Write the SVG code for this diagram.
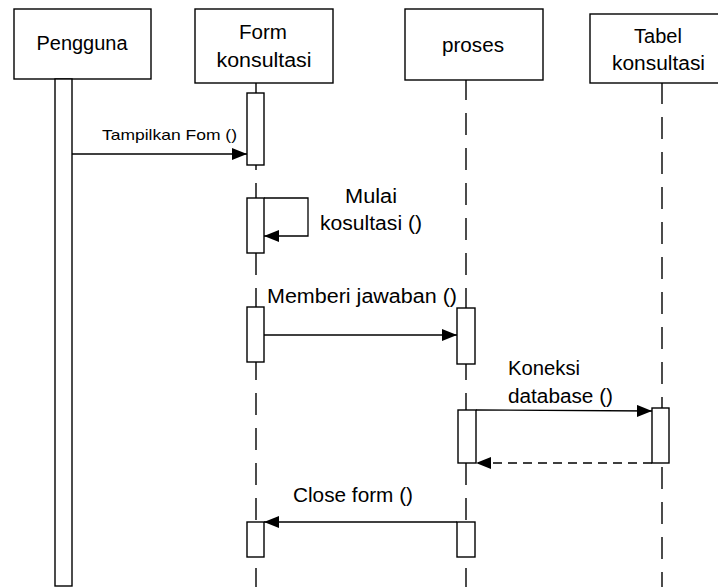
<svg xmlns="http://www.w3.org/2000/svg" width="718" height="587" viewBox="0 0 718 587">
<style>
.box{fill:#fff;stroke:#000;stroke-width:1.4}
.act{fill:#fff;stroke:#000;stroke-width:1.4}
.life{stroke:#000;stroke-width:1.4;stroke-dasharray:22 13;fill:none}
.msg{stroke:#000;stroke-width:1.3;fill:none}
.ret{stroke:#000;stroke-width:1.3;fill:none;stroke-dasharray:9 6}
text{font-family:"Liberation Sans",Arial,sans-serif;fill:#000}
.t{font-size:20px;text-anchor:middle}
.l{font-size:20px}
.s{font-size:15px}
</style>
<defs>
<marker id="ah" markerWidth="16" markerHeight="12" refX="15" refY="6" orient="auto" markerUnits="userSpaceOnUse">
<path d="M0,0 L15,6 L0,12 Z" fill="#000"/>
</marker>
</defs>
<g id="lifelines">
<line class="life" x1="256" y1="78" x2="256" y2="587"/>
<line class="life" x1="466" y1="78" x2="466" y2="587"/>
<line class="life" x1="662" y1="82" x2="662" y2="587"/>
</g>
<g id="pengguna">
<rect class="box" x="14" y="9" width="137" height="70"/>
<text class="t" x="82" y="50" textLength="91" lengthAdjust="spacingAndGlyphs">Pengguna</text>
<rect class="act" x="55" y="79" width="17" height="507"/>
</g>
<g id="form-konsultasi">
<rect class="box" x="195" y="9" width="138" height="74"/>
<text class="t" x="263" y="39" textLength="48" lengthAdjust="spacingAndGlyphs">Form</text>
<text class="t" x="264" y="67" textLength="95" lengthAdjust="spacingAndGlyphs">konsultasi</text>
<rect class="act" x="247" y="93" width="17" height="72"/>
<rect class="act" x="247" y="198" width="17" height="55"/>
<rect class="act" x="247" y="307" width="17" height="55"/>
<rect class="act" x="247" y="522" width="17" height="35"/>
</g>
<g id="proses">
<rect class="box" x="405" y="9" width="138" height="71"/>
<text class="t" x="473" y="52" textLength="62" lengthAdjust="spacingAndGlyphs">proses</text>
<rect class="act" x="457" y="308" width="18" height="56"/>
<rect class="act" x="458" y="410" width="18" height="53"/>
<rect class="act" x="457" y="522" width="18" height="35"/>
</g>
<g id="tabel-konsultasi">
<rect class="box" x="590" y="14" width="145" height="69"/>
<text class="t" x="658" y="43">Tabel</text>
<text class="t" x="658.5" y="70" textLength="93" lengthAdjust="spacingAndGlyphs">konsultasi</text>
<rect class="act" x="652" y="408" width="17" height="55"/>
</g>
<g id="connectors">
<line class="msg" x1="72" y1="154" x2="247" y2="154" marker-end="url(#ah)"/>
<polyline class="msg" points="264,198 308,198 308,236 264,236" marker-end="url(#ah)"/>
<line class="msg" x1="264" y1="335" x2="457" y2="335" marker-end="url(#ah)"/>
<line class="msg" x1="476" y1="410" x2="652" y2="411" marker-end="url(#ah)"/>
<line class="ret" x1="652" y1="463" x2="476" y2="463" marker-end="url(#ah)"/>
<line class="msg" x1="457" y1="522" x2="264" y2="522" marker-end="url(#ah)"/>
</g>
<g id="labels">
<text class="s" x="102" y="140" textLength="135" lengthAdjust="spacingAndGlyphs">Tampilkan Fom ()</text>
<text class="t" x="371" y="203" textLength="52" lengthAdjust="spacingAndGlyphs">Mulai</text>
<text class="t" x="371" y="230" textLength="102" lengthAdjust="spacingAndGlyphs">kosultasi ()</text>
<text class="l" x="267" y="303" textLength="190" lengthAdjust="spacingAndGlyphs">Memberi jawaban ()</text>
<text class="l" x="508" y="375" textLength="72" lengthAdjust="spacingAndGlyphs">Koneksi</text>
<text class="l" x="508" y="403" textLength="105" lengthAdjust="spacingAndGlyphs">database ()</text>
<text class="l" x="293" y="502" textLength="120" lengthAdjust="spacingAndGlyphs">Close form ()</text>
</g>
</svg>
